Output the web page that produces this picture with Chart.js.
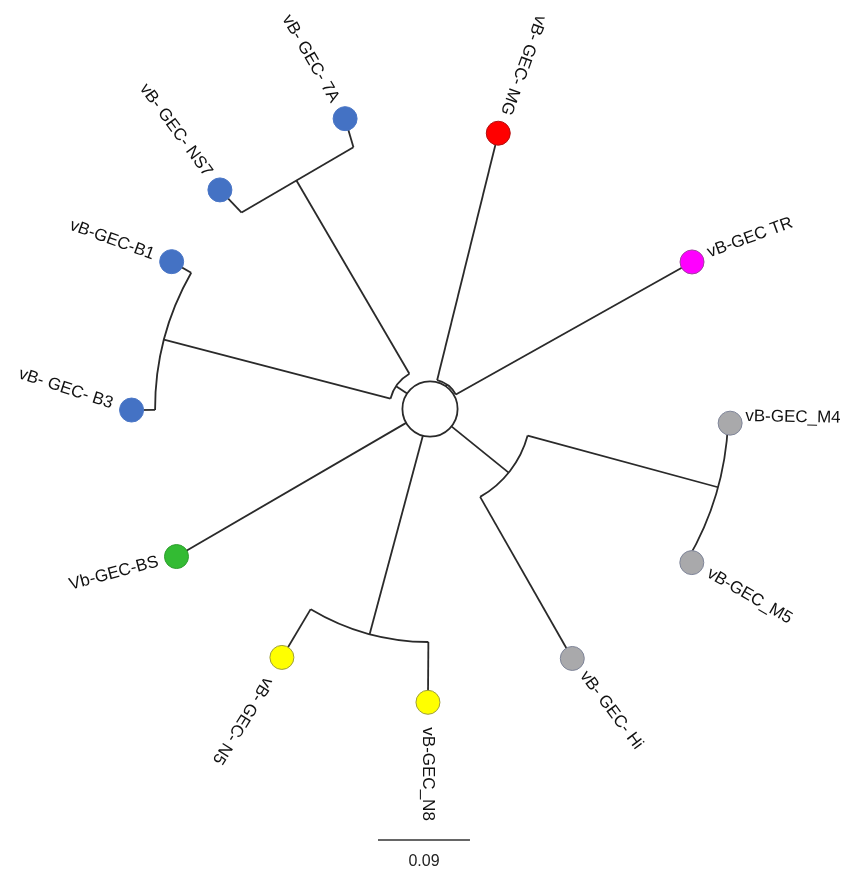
<!DOCTYPE html>
<html lang="en">
<head>
  <meta charset="UTF-8">
  <title>vB-GEC phage tree</title>
  <script src="https://cdn.jsdelivr.net/npm/chart.js"></script>
  <style>
    body {
      margin: 0;
      background: #fff;
    }
    #wrap {
      position: relative;
      width: 843px;
      height: 871px;
    }
  </style>
</head>
<body>
  <div id="wrap">
    <canvas id="tree" width="843" height="871"></canvas>
  </div>

  <script>
    // tips: name, angle (deg, counter-clockwise from 3 o'clock), distance from root, parent node, clade
    const tipNames = ['vB- GEC- 7A', 'vB- GEC- NS7', 'vB-GEC-B1', 'vB- GEC- B3', 'Vb-GEC-BS', 'vB- GEC- N5',
                      'vB-GEC_N8', 'vB- GEC- Hi', 'vB-GEC_M5', 'vB-GEC_M4', 'vB-GEC TR', 'vB- GEC- MG'];
    const tipAngle = [106.3, 133.8, 150.3, 180.2, 210.2, 239.2, 269.6, -60.3, -30.4, -2.7, 29.3, 76.1];
    const tipDepth = [0.296, 0.297, 0.291, 0.292, 0.287, 0.283, 0.287, 0.281, 0.297, 0.294, 0.294, 0.278];
    const tipParent = ['NS', 'NS', 'B', 'B', 'root', 'N', 'N', 'HM', 'M', 'M', 'top', 'top'];
    const tipClade = ['blue', 'blue', 'blue', 'blue', 'green', 'yellow', 'yellow', 'grey', 'grey', 'grey', 'magenta', 'red'];

    // internal nodes
    const nodeNames = ['top', 'L', 'NS', 'B', 'N', 'HM', 'M'];
    const nodeParent = ['root', 'root', 'L', 'L', 'root', 'root', 'HM'];
    const nodeAngle = [55, 146, 120.3, 165.4, 255, -39, -15.2];
    const nodeDepth = [0.029, 0.040, 0.259, 0.269, 0.228, 0.099, 0.292];
    const rootDepth = 0.027;

    const scaleBarLength = 0.09;
    const scaleBarLabel = '0.09';

    // drawing settings
    const PX_PER_UNIT = 1022;
    const CX = 430, CY = 409;           // root position in pixels
    const LINE = '#2a2a2a';
    const cladeFill = { blue: '#4472C4', green: '#33BB33', yellow: '#FFFF00', grey: '#A9A9AB', magenta: '#FF00FF', red: '#FF0000' };
    const cladeEdge = { blue: '#4a76c6', green: '#2E9E2E', yellow: '#9E9E3C', grey: '#7F8599', magenta: '#A040A0', red: '#B01010' };
    const straightJoin = ['NS'];        // this clade is joined with a straight bar in the original
    const labelDir = ['in', 'in', 'in', 'in', 'in', 'out', 'out', 'out', 'out', 'out', 'out', 'in'];
    const labelRot = [60, 53.6, 20, 18, -15, 122, 90, 53, 30, 1, -20, 110];
    const labelGap = [7, 6, 6, 7, 6, 12, 12, 5, 6, 2, 5, 7];
    const labelShift = [0, 0, 0, 0, 0, 0, 0, 0, 0, -7, -3, 0];

    function polar(angle, depth) {
      const a = angle * Math.PI / 180;
      return { x: depth * Math.cos(a), y: depth * Math.sin(a) };
    }

    // radius where a child at `angle` meets the joining bar of node `name`
    function joinDepth(name, angle) {
      if (name === 'root') return rootDepth;
      const i = nodeNames.indexOf(name);
      if (straightJoin.includes(name)) {
        return nodeDepth[i] / Math.cos((angle - nodeAngle[i]) * Math.PI / 180);
      }
      return nodeDepth[i];
    }

    // one small line dataset per radial branch
    const datasets = [];
    nodeNames.forEach((n, i) => {
      datasets.push({
        type: 'scatter',
        data: [polar(nodeAngle[i], joinDepth(nodeParent[i], nodeAngle[i])), polar(nodeAngle[i], nodeDepth[i])],
        showLine: true, borderColor: LINE, borderWidth: 1.8, pointRadius: 0, clip: false
      });
    });
    tipNames.forEach((n, i) => {
      datasets.push({
        type: 'scatter',
        data: [polar(tipAngle[i], joinDepth(tipParent[i], tipAngle[i])), polar(tipAngle[i], tipDepth[i])],
        showLine: true, borderColor: LINE, borderWidth: 1.8, pointRadius: 0, clip: false
      });
    });
    // tip circles, drawn on top of the branches
    datasets.push({
      type: 'scatter',
      order: -1,
      data: tipNames.map((n, i) => polar(tipAngle[i], tipDepth[i])),
      pointRadius: 12,
      pointBorderWidth: 1,
      pointBackgroundColor: tipClade.map(c => cladeFill[c]),
      pointBorderColor: tipClade.map(c => cladeEdge[c]),
      showLine: false,
      clip: false
    });

    // arcs joining children of each internal node + the root ring, labels, scale bar
    const treePlugin = {
      id: 'tree',
      beforeDatasetsDraw(chart) {
        const ctx = chart.ctx;
        const xs = chart.scales.x, ys = chart.scales.y;
        const ox = xs.getPixelForValue(0), oy = ys.getPixelForValue(0);
        const rad = d => xs.getPixelForValue(d) - ox;
        ctx.save();
        ctx.strokeStyle = LINE;
        ctx.lineWidth = 1.8;
        ctx.beginPath();
        ctx.arc(ox, oy, rad(rootDepth), 0, Math.PI * 2);
        ctx.stroke();
        nodeNames.forEach((n, i) => {
          const angles = [];
          tipParent.forEach((p, j) => { if (p === n) angles.push(tipAngle[j]); });
          nodeParent.forEach((p, j) => { if (p === n) angles.push(nodeAngle[j]); });
          const lo = Math.min(...angles), hi = Math.max(...angles);
          ctx.beginPath();
          if (straightJoin.includes(n)) {
            const p1 = polar(lo, joinDepth(n, lo)), p2 = polar(hi, joinDepth(n, hi));
            ctx.moveTo(xs.getPixelForValue(p1.x), ys.getPixelForValue(p1.y));
            ctx.lineTo(xs.getPixelForValue(p2.x), ys.getPixelForValue(p2.y));
          } else {
            ctx.arc(ox, oy, rad(nodeDepth[i]), -hi * Math.PI / 180, -lo * Math.PI / 180);
          }
          ctx.stroke();
        });
        ctx.restore();
      },
      afterDatasetsDraw(chart) {
        const ctx = chart.ctx;
        const xs = chart.scales.x, ys = chart.scales.y;
        ctx.save();
        ctx.fillStyle = '#111';
        ctx.font = '17px "Liberation Sans", Arial, sans-serif';
        ctx.textBaseline = 'middle';
        tipNames.forEach((name, i) => {
          const p = polar(tipAngle[i], tipDepth[i]);
          const px = xs.getPixelForValue(p.x), py = ys.getPixelForValue(p.y);
          ctx.save();
          ctx.translate(px, py);
          ctx.rotate(labelRot[i] * Math.PI / 180);
          if (labelDir[i] === 'out') {
            ctx.textAlign = 'left';
            ctx.fillText(name, 13 + labelGap[i], labelShift[i]);
          } else {
            ctx.textAlign = 'right';
            ctx.fillText(name, -(13 + labelGap[i]), labelShift[i]);
          }
          ctx.restore();
        });

        // scale bar
        const x0 = 378, yBar = 840;
        const len = xs.getPixelForValue(scaleBarLength) - xs.getPixelForValue(0);
        ctx.strokeStyle = '#333';
        ctx.lineWidth = 1.5;
        ctx.beginPath();
        ctx.moveTo(x0, yBar);
        ctx.lineTo(x0 + len, yBar);
        ctx.stroke();
        ctx.font = '16px "Liberation Sans", Arial, sans-serif';
        ctx.textAlign = 'center';
        ctx.fillStyle = '#222';
        ctx.fillText(scaleBarLabel, x0 + len / 2, 862);
        ctx.restore();
      }
    };

    new Chart(document.getElementById('tree'), {
      type: 'scatter',
      data: { datasets: datasets },
      options: {
        responsive: false,
        animation: false,
        events: [],
        layout: { padding: 0, autoPadding: false },
        scales: {
          x: { type: 'linear', display: false, min: -CX / PX_PER_UNIT, max: (843 - CX) / PX_PER_UNIT },
          y: { type: 'linear', display: false, min: -(871 - CY) / PX_PER_UNIT, max: CY / PX_PER_UNIT }
        },
        plugins: {
          legend: { display: false },
          tooltip: { enabled: false }
        }
      },
      plugins: [treePlugin]
    });
  </script>
</body>
</html>
